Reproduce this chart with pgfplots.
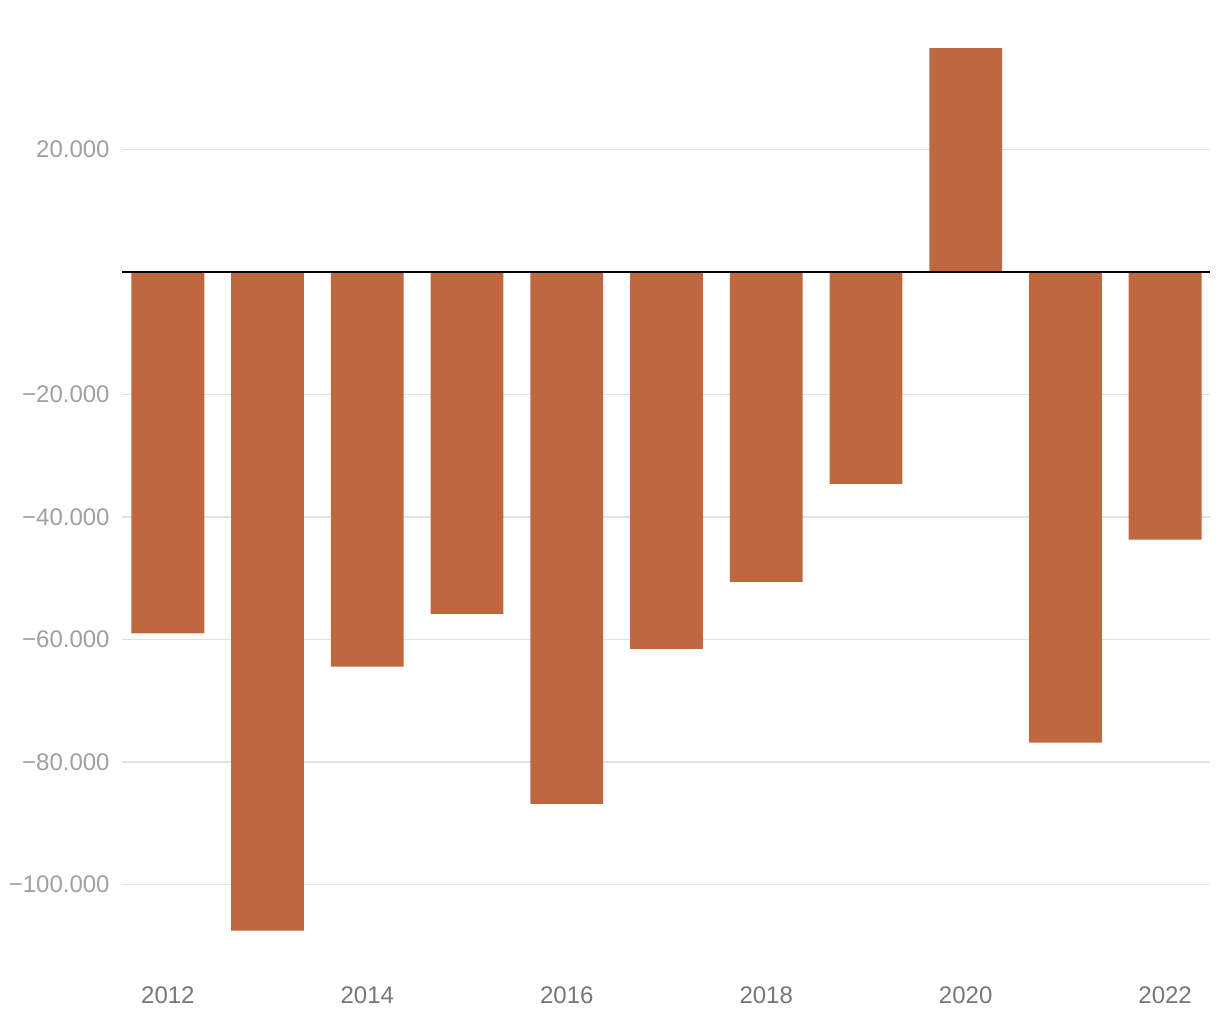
\documentclass[border=0pt]{standalone}
\usepackage{pgfplots}
\pgfplotsset{compat=1.18}
\usepackage{fontspec}
\setmainfont{Liberation Sans}
\definecolor{barc}{HTML}{BF673F}
\definecolor{gridc}{HTML}{E2E2E2}
\definecolor{ylab}{HTML}{A0A0A0}
\definecolor{xlab}{HTML}{777777}
\begin{document}
\begin{tikzpicture}[x=1pt,y=1pt]
\begin{axis}[name=ax,
  scale only axis,
  width=544pt, height=459.6pt,
  xmin=-0.46, xmax=10.45,
  ymin=-110000, ymax=40000,
  axis line style={draw=none},
  major tick length=0pt,
  xtick={0,2,4,6,8,10},
  xticklabels={2012,2014,2016,2018,2020,2022},
  ytick={-100000,-80000,-60000,-40000,-20000,20000},
  yticklabels={−100.000,−80.000,−60.000,−40.000,−20.000,20.000},
  ymajorgrids, grid style={gridc, line width=0.7pt},
  xticklabel style={font=\fontsize{12}{14}\selectfont, text=xlab, yshift=-17pt},
  yticklabel style={font=\fontsize{12}{14}\selectfont, text=ylab, inner sep=0pt, xshift=-6pt},
  ybar, bar width=0.73,
  clip=false,
]
\addplot[fill=barc, draw=none] coordinates {
(0,-59000) (1,-107500) (2,-64400) (3,-55800) (4,-86800) (5,-61500)
(6,-50600) (7,-34600) (8,36500) (9,-76800) (10,-43700)};
\draw[black, line width=1pt] (axis cs:-0.46,0) -- (axis cs:10.45,0);
\end{axis}
\pgfresetboundingbox
\path[use as bounding box] ([xshift=-61pt,yshift=-37pt]ax.south west) rectangle ([xshift=5pt,yshift=13.4pt]ax.north east);
\end{tikzpicture}
\end{document}
